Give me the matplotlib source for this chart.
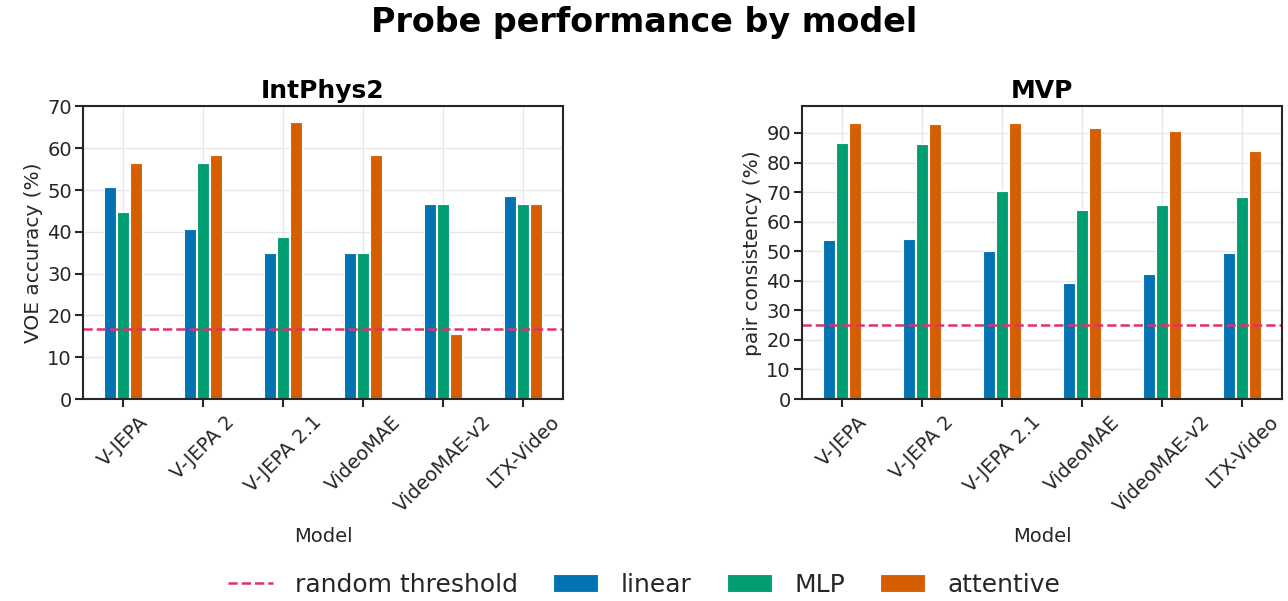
import matplotlib
matplotlib.use("Agg")
import matplotlib.pyplot as plt
import numpy as np

models = ["V-JEPA", "V-JEPA 2", "V-JEPA 2.1", "VideoMAE", "VideoMAE-v2", "LTX-Video"]

# IntPhys2 VOE accuracy (%)
intphys_linear = [50.7, 40.7, 35.0, 35.0, 46.7, 48.6]
intphys_mlp = [44.8, 56.4, 38.8, 35.0, 46.7, 46.7]
intphys_attentive = [56.4, 58.3, 66.2, 58.3, 15.5, 46.7]
intphys_random = 16.7

# MVP pair consistency (%)
mvp_linear = [53.8, 54.2, 50.2, 39.1, 42.2, 49.4]
mvp_mlp = [86.7, 86.4, 70.3, 64.1, 65.8, 68.5]
mvp_attentive = [93.4, 93.0, 93.4, 91.6, 90.8, 84.0]
mvp_random = 25.0

colors = {"linear": "#0173b2", "MLP": "#029e73", "attentive": "#d55e00"}
thr_color = "#e0306f"

plt.rcParams["font.family"] = "DejaVu Sans"
plt.rcParams["axes.linewidth"] = 1.5
plt.rcParams["axes.edgecolor"] = ".15"
plt.rcParams["text.color"] = ".15"
plt.rcParams["axes.labelcolor"] = ".15"
plt.rcParams["xtick.color"] = ".15"
plt.rcParams["ytick.color"] = ".15"
plt.rcParams["xtick.major.width"] = 1.5
plt.rcParams["ytick.major.width"] = 1.5
plt.rcParams["xtick.major.size"] = 6
plt.rcParams["ytick.major.size"] = 6

fig = plt.figure(figsize=(12.88, 6.01), dpi=100)
ax1 = fig.add_axes([0.0644, 0.336, 0.3727, 0.487])
ax2 = fig.add_axes([0.6227, 0.336, 0.3727, 0.487])


def draw_panel(ax, linear, mlp, attentive, random_val, title, ylabel, ylim, yticks):
    x = np.arange(len(models))
    w = 0.15
    step = 0.165
    ax.set_axisbelow(True)
    ax.grid(True, color="#e4e6ec", linewidth=1.0)
    ax.axhline(random_val, color=thr_color, linestyle="--", linewidth=1.8, label="random threshold")
    ax.bar(x - step, linear, w, color=colors["linear"], edgecolor="white", linewidth=0.8, label="linear")
    ax.bar(x, mlp, w, color=colors["MLP"], edgecolor="white", linewidth=0.8, label="MLP")
    ax.bar(x + step, attentive, w, color=colors["attentive"], edgecolor="white", linewidth=0.8, label="attentive")
    ax.set_xlim(-0.5, 5.5)
    ax.set_ylim(*ylim)
    ax.set_yticks(yticks)
    ax.set_xticks(x)
    ax.set_xticklabels(models, rotation=45, fontsize=14)
    ax.tick_params(axis="y", labelsize=14, pad=2)
    ax.set_title(title, fontsize=18, fontweight="bold", color="black", pad=6)
    ax.set_ylabel(ylabel, fontsize=14.5, labelpad=3)
    ax.set_xlabel("Model", fontsize=14, labelpad=8)


draw_panel(ax1, intphys_linear, intphys_mlp, intphys_attentive, intphys_random,
           "IntPhys2", "VOE accuracy (%)", (0, 70), range(0, 71, 10))
draw_panel(ax2, mvp_linear, mvp_mlp, mvp_attentive, mvp_random,
           "MVP", "pair consistency (%)", (0, 99), range(0, 91, 10))

fig.suptitle("Probe performance by model", fontsize=24, fontweight="bold", color="black", y=0.99)

handles, labels = ax1.get_legend_handles_labels()
fig.legend(handles, labels,
           loc="lower center", bbox_to_anchor=(0.5, -0.03), ncol=4, frameon=False,
           fontsize=18, handlelength=1.8, handletextpad=0.9, columnspacing=1.4)

fig.savefig("out.png", dpi=100)
